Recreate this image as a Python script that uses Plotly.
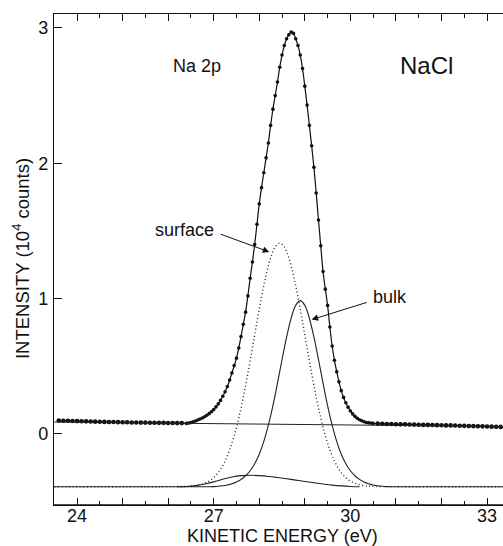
import numpy as np
import plotly.graph_objects as go

# ---------------- data ----------------
# measured spectrum, three sampling segments
data_left_x0, data_left_step = 23.6, 0.1
data_left_y = [0.099, 0.098, 0.097, 0.096, 0.095, 0.094, 0.093, 0.092, 0.091, 0.090,
               0.089, 0.088, 0.088, 0.087, 0.086, 0.086, 0.085, 0.085, 0.084, 0.084,
               0.083, 0.083, 0.082, 0.082, 0.081, 0.081, 0.080, 0.080]
data_peak_x0, data_peak_step = 26.4, 0.05
data_peak_y = [0.078, 0.080, 0.084, 0.090, 0.096, 0.103, 0.110, 0.118, 0.127, 0.138,
               0.150, 0.164, 0.180, 0.200, 0.222, 0.248, 0.278, 0.312, 0.350, 0.398,
               0.450, 0.505, 0.560, 0.635, 0.720, 0.810, 0.900, 1.020, 1.150, 1.270,
               1.400, 1.550, 1.700, 1.820, 1.930, 2.040, 2.150, 2.280, 2.400, 2.500,
               2.600, 2.710, 2.800, 2.870, 2.920, 2.950, 2.970, 2.960, 2.920, 2.870,
               2.800, 2.700, 2.570, 2.430, 2.280, 2.130, 1.970, 1.780, 1.580, 1.390,
               1.200, 1.070, 0.950, 0.790, 0.650, 0.545, 0.460, 0.385, 0.320, 0.270,
               0.230, 0.198, 0.170, 0.148, 0.130, 0.116, 0.105, 0.097, 0.090, 0.085,
               0.082, 0.080, 0.078]
data_right_x0, data_right_step = 30.6, 0.1
data_right_y = [0.076, 0.075, 0.074, 0.073, 0.072, 0.071, 0.071, 0.070, 0.069, 0.068,
                0.067, 0.067, 0.066, 0.065, 0.064, 0.063, 0.063, 0.062, 0.061, 0.060,
                0.059, 0.058, 0.057, 0.056, 0.055, 0.054, 0.053, 0.052, 0.051]

# linear background under the spectrum
bg_x = [23.5, 33.35]
bg_y = [0.088, 0.055]

# surface component (dotted)
surf_x = [23.5] + [round(26.45 + 0.1 * i, 2) for i in range(41)] + [33.35]
surf_y = [-0.390,
          -0.387, -0.384, -0.379, -0.370, -0.357, -0.337, -0.306, -0.262, -0.200, -0.118,
          -0.013, 0.118, 0.272, 0.447, 0.636, 0.828, 1.012, 1.174, 1.301, 1.382,
          1.410,
          1.382, 1.301, 1.174, 1.012, 0.828, 0.636, 0.447, 0.272, 0.118, -0.013,
          -0.118, -0.200, -0.262, -0.306, -0.337, -0.357, -0.370, -0.379, -0.384, -0.387,
          -0.390]

# bulk component (solid)
bulk_x = [23.5] + [round(26.9 + 0.1 * i, 2) for i in range(41)] + [33.35]
bulk_y = [-0.390,
          -0.390, -0.389, -0.387, -0.383, -0.377, -0.368, -0.355, -0.336, -0.309, -0.272,
          -0.220, -0.150, -0.055, 0.065, 0.210, 0.375, 0.550, 0.715, 0.855, 0.950,
          0.985,
          0.950, 0.855, 0.715, 0.550, 0.375, 0.210, 0.065, -0.055, -0.150, -0.220,
          -0.272, -0.309, -0.336, -0.355, -0.368, -0.377, -0.383, -0.387, -0.389, -0.390,
          -0.390]

# small loss feature (solid)
bump_x = [26.2, 26.4, 26.6, 26.8, 27.0, 27.2, 27.4, 27.6, 27.8, 28.0, 28.2,
          28.4, 28.6, 28.8, 29.0, 29.2, 29.4, 29.6, 29.8, 30.0, 30.2]
bump_y = [-0.390, -0.388, -0.382, -0.370, -0.354, -0.335, -0.318, -0.308, -0.305, -0.308, -0.314,
          -0.322, -0.331, -0.341, -0.351, -0.361, -0.370, -0.378, -0.384, -0.388, -0.390]

# x tick labels shown only every 3 eV
x_hidden_labels = ["25", "26", "28", "29", "31", "32"]
y_tickvals = [0, 1, 2, 3]

# ---------------- build ----------------
def seg(x0, step, ys):
    return list(np.round(x0 + step * np.arange(len(ys)), 3))

data_x = seg(data_left_x0, data_left_step, data_left_y) + \
         seg(data_peak_x0, data_peak_step, data_peak_y) + \
         seg(data_right_x0, data_right_step, data_right_y)
data_y = data_left_y + data_peak_y + data_right_y
marker_sizes = [4.6] * len(data_left_y) + [3.6] * len(data_peak_y) + [4.6] * len(data_right_y)

FONT = "Liberation Sans, Arial, sans-serif"
INK = "#111111"
AX = "#111111"
XR = [23.495, 33.35]

fig = go.Figure()
fig.add_trace(go.Scatter(x=bg_x, y=bg_y, mode="lines", xaxis="x2",
                         line=dict(color="#222222", width=1)))
fig.add_trace(go.Scatter(x=bump_x, y=bump_y, mode="lines", line_shape="spline",
                         line=dict(color="#222222", width=1.1)))
fig.add_trace(go.Scatter(x=bulk_x, y=bulk_y, mode="lines", line_shape="spline",
                         line=dict(color="#222222", width=1.1)))
fig.add_trace(go.Scatter(x=surf_x, y=surf_y, mode="lines", line_shape="spline",
                         line=dict(color="#222222", width=1.4, dash="1px,2.6px")))
fig.add_trace(go.Scatter(x=data_x, y=data_y, mode="lines+markers", line_shape="spline",
                         line=dict(color=INK, width=1.2),
                         marker=dict(color=INK, size=marker_sizes, opacity=1,
                                     line=dict(width=0))))

ann = []
ann.append(dict(x=26.63, y=2.72, text="Na 2p", showarrow=False,
                font=dict(size=18, family=FONT, color=INK)))
ann.append(dict(x=31.66, y=2.72, text="NaCl", showarrow=False,
                font=dict(size=24, family=FONT, color=INK)))
ann.append(dict(x=26.36, y=1.51, text="surface", showarrow=False,
                font=dict(size=18, family=FONT, color=INK)))
ann.append(dict(x=30.87, y=1.01, text="bulk", showarrow=False,
                font=dict(size=18, family=FONT, color=INK)))
# arrows
ann.append(dict(x=28.22, y=1.345, ax=27.12, ay=1.48, axref="x", ayref="y",
                text="", showarrow=True, arrowhead=2, arrowsize=1.3,
                arrowwidth=1, arrowcolor=INK))
ann.append(dict(x=29.15, y=0.845, ax=30.39, ay=0.975, axref="x", ayref="y",
                text="", showarrow=True, arrowhead=2, arrowsize=1.3,
                arrowwidth=1, arrowcolor=INK))
# axis titles
ann.append(dict(xref="paper", yref="paper", x=0.508, y=-0.064,
                text="KINETIC ENERGY (eV)", showarrow=False,
                xanchor="center", yanchor="middle",
                font=dict(size=18, family=FONT, color=INK)))
ann.append(dict(xref="paper", yref="paper", x=-0.0735, y=0.503,
                text="INTENSITY (10<sup>4</sup> counts)", showarrow=False,
                textangle=-90, xanchor="center", yanchor="middle",
                font=dict(size=18.5, family=FONT, color=INK)))

fig.update_layout(
    width=503, height=546,
    margin=dict(l=54, r=0, t=14, b=41),
    paper_bgcolor="white", plot_bgcolor="white",
    showlegend=False,
    annotations=ann,
    # frame line along the bottom of the plotting area
    shapes=[dict(type="line", xref="paper", yref="paper", x0=0, x1=1, y0=0, y1=0,
                 line=dict(color=AX, width=1.3), layer="above")],
    xaxis=dict(range=XR, tickmode="linear", tick0=24, dtick=1,
               labelalias={k: "" for k in x_hidden_labels},
               ticks="inside", ticklen=7, tickwidth=1.2, tickcolor=AX,
               showline=True, linecolor=AX, linewidth=1.3, mirror="allticks",
               showgrid=False, zeroline=False, layer="above traces",
               tickfont=dict(size=18, family=FONT, color=INK),
               ticklabelstandoff=-6),
    xaxis2=dict(range=XR, overlaying="x", side="bottom", tickmode="linear",
                tick0=24.5, dtick=1, ticks="inside", ticklen=4, tickwidth=1.2,
                tickcolor=AX, showticklabels=False, showline=False,
                mirror="allticks", showgrid=False, zeroline=False),
    yaxis=dict(range=[-0.525, 3.103], tickvals=y_tickvals,
               ticks="inside", ticklen=8, tickwidth=1.2, tickcolor=AX,
               showline=True, linecolor=AX, linewidth=1.3, mirror=False,
               showgrid=False, zeroline=False,
               tickfont=dict(size=18, family=FONT, color=INK),
               ticklabelstandoff=1),
)

fig.write_html("out.html", config={"displayModeBar": False},
               post_script="document.body.style.margin='0px';document.body.style.overflow='hidden';")
